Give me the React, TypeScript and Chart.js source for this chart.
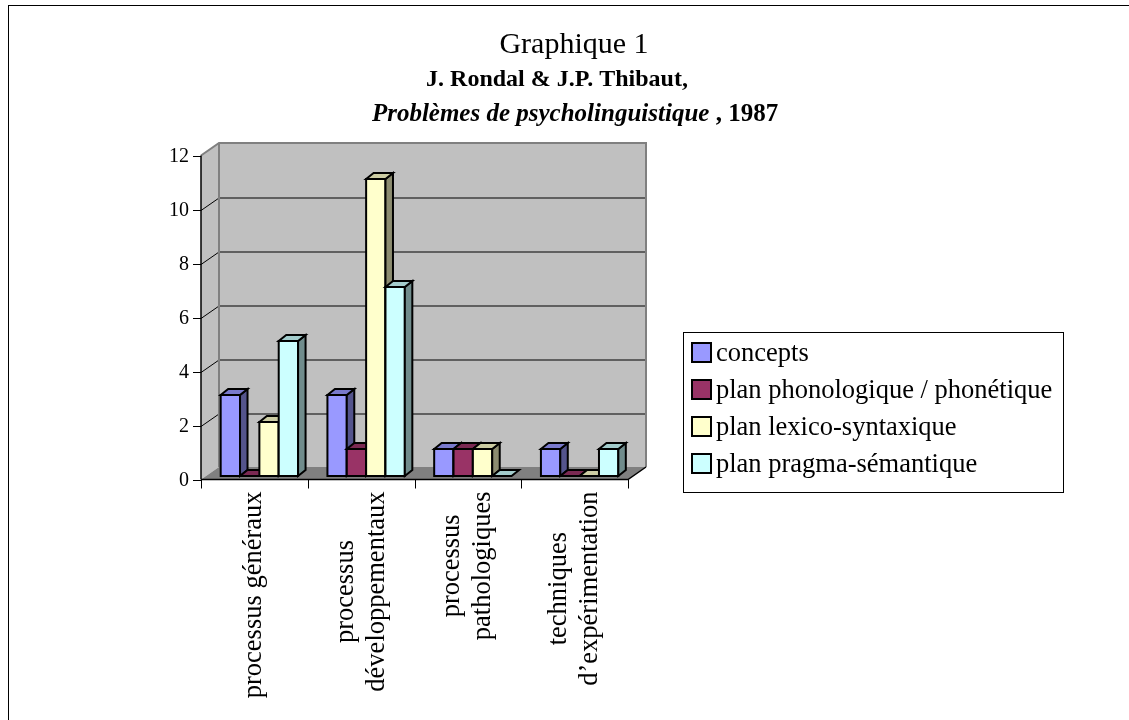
import React, { useEffect, useRef } from 'react';
import { Chart, registerables } from 'chart.js';

Chart.register(...registerables);

// ---------- data ----------
const categoryLabels: string[][] = [
  ['processus généraux'],
  ['processus', 'développementaux'],
  ['processus', 'pathologiques'],
  ['techniques', 'd’expérimentation'],
];
const seriesNames = [
  'concepts',
  'plan phonologique / phonétique',
  'plan lexico-syntaxique',
  'plan pragma-sémantique',
];
const concepts = [3, 3, 1, 1];
const phonologique = [0, 1, 1, 0];
const lexicoSyntaxique = [2, 11, 1, 0];
const pragmaSemantique = [5, 7, 0, 1];
const seriesColors = ['#9999ff', '#993366', '#ffffcc', '#ccffff'];
const yMin = 0;
const yMax = 12;
const yStep = 2;
const titleLine1 = 'Graphique 1';
const titleLine2 = 'J. Rondal & J.P. Thibaut,';
const titleLine3Italic = 'Problèmes de psycholinguistique';
const titleLine3Rest = ' , 1987';

// ---------- style ----------
const W = 1129;
const H = 720;
const SERIF = '"Liberation Serif", "Times New Roman", serif';
const WALL = { dx: 18, dy: -12.5 };
const BAR_PLANE = { dx: 5, dy: -3.5 };
const BAR_DEPTH = { dx: 7.5, dy: -6 };

function shade(hex: string, f: number): string {
  const n = parseInt(hex.slice(1), 16);
  const r = Math.round(((n >> 16) & 255) * f);
  const g = Math.round(((n >> 8) & 255) * f);
  const b = Math.round((n & 255) * f);
  return `rgb(${r},${g},${b})`;
}

function poly(ctx: CanvasRenderingContext2D, pts: number[][], fill?: string, stroke?: string, lw = 1) {
  ctx.beginPath();
  ctx.moveTo(pts[0][0], pts[0][1]);
  for (let i = 1; i < pts.length; i++) ctx.lineTo(pts[i][0], pts[i][1]);
  ctx.closePath();
  if (fill) {
    ctx.fillStyle = fill;
    ctx.fill();
  }
  if (stroke) {
    ctx.strokeStyle = stroke;
    ctx.lineWidth = lw;
    ctx.stroke();
  }
}

function line(ctx: CanvasRenderingContext2D, pts: number[][], color: string, lw = 1) {
  ctx.beginPath();
  ctx.moveTo(pts[0][0], pts[0][1]);
  for (let i = 1; i < pts.length; i++) ctx.lineTo(pts[i][0], pts[i][1]);
  ctx.strokeStyle = color;
  ctx.lineWidth = lw;
  ctx.stroke();
}

const excel3d = {
  id: 'excel3d',
  beforeDatasetsDraw(chart: any) {
    const ctx: CanvasRenderingContext2D = chart.ctx;
    const { left, right, top, bottom } = chart.chartArea;
    const yScale = chart.scales.y;
    const xScale = chart.scales.x;
    const wx = WALL.dx;
    const wy = WALL.dy;
    ctx.save();
    ctx.lineJoin = 'miter';

    // back wall, side wall, floor
    poly(ctx, [[left + wx, top + wy], [right + wx, top + wy], [right + wx, bottom + wy], [left + wx, bottom + wy]], '#c0c0c0');
    poly(ctx, [[left, top], [left + wx, top + wy], [left + wx, bottom + wy], [left, bottom]], '#c0c0c0');
    poly(ctx, [[left, bottom], [left + wx, bottom + wy], [right + wx, bottom + wy], [right, bottom]], '#808080');

    // gridlines
    yScale.ticks.forEach((t: any) => {
      const v = t.value;
      if (v <= yScale.min || v >= yScale.max) return;
      const y = Math.round(yScale.getPixelForValue(v)) + 0.5;
      line(ctx, [[left + wx, y + wy], [right + wx, y + wy]], '#000', 1);
      line(ctx, [[left, y], [left + wx, y + wy]], '#000', 1);
    });

    // wall edges
    line(ctx, [[left, top], [left + wx, top + wy], [right + wx, top + wy], [right + wx, bottom + wy]], '#808080', 2);
    line(ctx, [[left + wx, top + wy], [left + wx, bottom + wy]], '#808080', 2);

    // front axes
    line(ctx, [[left, top], [left, bottom]], '#000', 1.5);
    line(ctx, [[left, bottom], [right, bottom], [right + wx, bottom + wy]], '#000', 1.5);
    yScale.ticks.forEach((t: any) => {
      const y = Math.round(yScale.getPixelForValue(t.value)) + 0.5;
      line(ctx, [[left - 8, y], [left, y]], '#000', 1);
    });
    const n = chart.data.labels.length;
    const catW = (right - left) / n;
    for (let i = 0; i <= n; i++) {
      const bx = i < n ? xScale.getPixelForValue(i) - catW / 2 : xScale.getPixelForValue(n - 1) + catW / 2;
      const xx = Math.round(bx) + 0.5;
      line(ctx, [[xx, bottom], [xx, bottom + 9]], '#000', 1);
    }

    // 3D bars, drawn left to right
    const nd = chart.data.datasets.length;
    for (let j = 0; j < n; j++) {
      for (let i = 0; i < nd; i++) {
        const meta = chart.getDatasetMeta(i);
        const el: any = meta.data[j];
        const color = chart.data.datasets[i].backgroundColor as string;
        const x0 = el.x - el.width / 2 + BAR_PLANE.dx;
        const x1 = x0 + el.width;
        const yT = el.y + BAR_PLANE.dy;
        const yB = el.base + BAR_PLANE.dy;
        const dx = BAR_DEPTH.dx;
        const dy = BAR_DEPTH.dy;
        if (yB - yT > 0.5) {
          poly(ctx, [[x0, yT], [x1, yT], [x1, yB], [x0, yB]], color, '#000', 2);
          poly(ctx, [[x1, yT], [x1 + dx, yT + dy], [x1 + dx, yB + dy], [x1, yB]], shade(color, 0.55), '#000', 2);
        }
        poly(ctx, [[x0, yT], [x0 + dx, yT + dy], [x1 + dx, yT + dy], [x1, yT]], shade(color, 0.8), '#000', 2);
      }
    }
    ctx.restore();
    return false;
  },
  afterDraw(chart: any) {
    const ctx: CanvasRenderingContext2D = chart.ctx;
    const { left, bottom } = chart.chartArea;
    const yScale = chart.scales.y;
    const xScale = chart.scales.x;
    ctx.save();
    ctx.fillStyle = '#000';

    // y tick labels
    ctx.font = `20px ${SERIF}`;
    ctx.textAlign = 'right';
    ctx.textBaseline = 'middle';
    yScale.ticks.forEach((t: any) => {
      const y = yScale.getPixelForValue(t.value);
      ctx.fillText(String(t.value), left - 12, y + 1);
    });

    // x category labels (rotated, lines centered)
    ctx.font = `26.5px ${SERIF}`;
    const lh = 31;
    chart.data.labels.forEach((lbl: string[], j: number) => {
      const lines = Array.isArray(lbl) ? lbl : [lbl];
      const maxW = Math.max(...lines.map((s) => ctx.measureText(s).width));
      const cx = xScale.getPixelForValue(j);
      const cy = bottom + 12 + maxW / 2;
      lines.forEach((s, k) => {
        const lx = cx + (k - (lines.length - 1) / 2) * lh;
        ctx.save();
        ctx.translate(lx, cy);
        ctx.rotate(-Math.PI / 2);
        ctx.textAlign = 'center';
        ctx.textBaseline = 'middle';
        ctx.fillText(s, 0, 0);
        ctx.restore();
      });
    });

    // title
    ctx.textBaseline = 'alphabetic';
    ctx.textAlign = 'center';
    ctx.font = `30px ${SERIF}`;
    ctx.fillText(titleLine1, 574, 53);
    ctx.font = `bold 24px ${SERIF}`;
    ctx.fillText(titleLine2, 557, 86);
    const fItalic = `italic bold 25px ${SERIF}`;
    const fBold = `bold 25px ${SERIF}`;
    ctx.font = fItalic;
    const w1 = ctx.measureText(titleLine3Italic).width;
    ctx.font = fBold;
    const w2 = ctx.measureText(titleLine3Rest).width;
    const sx = 575 - (w1 + w2) / 2;
    ctx.textAlign = 'left';
    ctx.font = fItalic;
    ctx.fillText(titleLine3Italic, sx, 121);
    ctx.font = fBold;
    ctx.fillText(titleLine3Rest, sx + w1, 121);

    // legend
    const lx0 = 683.5;
    const ly0 = 332.5;
    const lw = 380;
    const lhgt = 160;
    ctx.fillStyle = '#fff';
    ctx.fillRect(lx0, ly0, lw, lhgt);
    ctx.strokeStyle = '#000';
    ctx.lineWidth = 1;
    ctx.strokeRect(lx0, ly0, lw, lhgt);
    ctx.font = `26.5px ${SERIF}`;
    ctx.textBaseline = 'middle';
    ctx.textAlign = 'left';
    chart.data.datasets.forEach((ds: any, i: number) => {
      const cy = 353 + i * 37;
      ctx.fillStyle = ds.backgroundColor;
      ctx.fillRect(692, cy - 10, 19, 19);
      ctx.lineWidth = 2;
      ctx.strokeStyle = '#000';
      ctx.strokeRect(692, cy - 10, 19, 19);
      ctx.fillStyle = '#000';
      ctx.fillText(ds.label, 716, cy + 1);
    });
    ctx.restore();
  },
};

export default function App() {
  const ref = useRef<HTMLCanvasElement | null>(null);

  useEffect(() => {
    if (!ref.current) return;
    const series = [concepts, phonologique, lexicoSyntaxique, pragmaSemantique];
    const chart = new Chart(ref.current, {
      type: 'bar',
      data: {
        labels: categoryLabels as any,
        datasets: series.map((d, i) => ({
          label: seriesNames[i],
          data: d,
          backgroundColor: seriesColors[i],
          borderColor: '#000',
          borderWidth: 2,
          categoryPercentage: 0.725,
          barPercentage: 1,
        })),
      },
      options: {
        responsive: false,
        animation: false,
        devicePixelRatio: 1,
        events: [],
        layout: {
          padding: { left: 201, top: 155.5, right: W - 628, bottom: H - 479.5 },
        },
        plugins: {
          legend: { display: false },
          title: { display: false },
          tooltip: { enabled: false },
        },
        scales: {
          x: { display: false, offset: true },
          y: {
            display: false,
            min: yMin,
            max: yMax,
            ticks: { stepSize: yStep },
          },
        },
      },
      plugins: [excel3d as any],
    });
    return () => chart.destroy();
  }, []);

  return (
    <div>
      <div
        style={{
          position: 'fixed',
          left: 8,
          top: 5,
          width: 1200,
          height: 800,
          border: '1px solid #000',
          background: '#fff',
        }}
      />
      <canvas
        ref={ref}
        width={W}
        height={H}
        style={{ position: 'fixed', left: 0, top: 0, width: W, height: H }}
      />
    </div>
  );
}
